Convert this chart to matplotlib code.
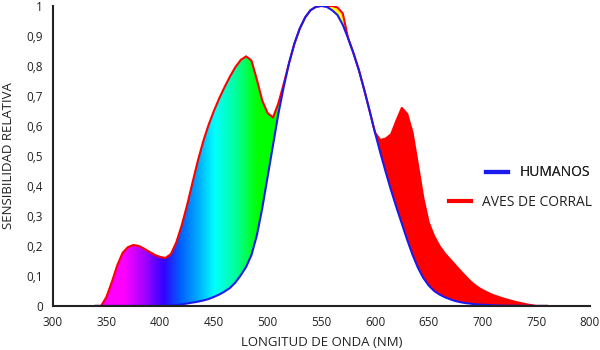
import numpy as np
import matplotlib
matplotlib.use("Agg")
import matplotlib.pyplot as plt
from matplotlib.colors import LinearSegmentedColormap
from matplotlib.lines import Line2D

plt.rcParams['font.family'] = ['Open Sans', 'DejaVu Sans']

# wavelength grid (nm) and the two sensitivity curves
wl = np.arange(340, 765, 5)

humanos = [
    0, 0, 0, 0, 0, 0, 0, 0, 0, 0, 0, 0, 0,            # 340-400
    0.001, 0.002, 0.003, 0.005, 0.008, 0.011, 0.014,   # 405-435
    0.018, 0.023, 0.030, 0.038, 0.048, 0.060, 0.078,   # 440-470
    0.102, 0.130, 0.170, 0.235, 0.325, 0.430, 0.535,   # 475-505
    0.640, 0.730, 0.810, 0.875, 0.925, 0.962, 0.986,   # 510-540
    0.997, 1.000, 0.997, 0.986, 0.970, 0.937, 0.892,   # 545-575
    0.842, 0.786, 0.720, 0.650, 0.578, 0.510, 0.446,   # 580-610
    0.385, 0.328, 0.274, 0.220, 0.170, 0.127, 0.093,   # 615-645
    0.068, 0.050, 0.038, 0.029, 0.022, 0.016, 0.012,   # 650-680
    0.009, 0.007, 0.005, 0.004, 0.003, 0.002, 0.0015,  # 685-715
    0.001, 0.0007, 0.0005, 0.0003, 0.0002, 0.0001, 0,  # 720-750
    0, 0,                                              # 755-760
]

aves = [
    0, 0, 0.03, 0.08, 0.135, 0.177, 0.196, 0.203, 0.200, 0.191,  # 340-385
    0.180, 0.170, 0.163, 0.160, 0.173, 0.212, 0.268, 0.335,      # 390-425
    0.410, 0.483, 0.548, 0.603, 0.650, 0.692, 0.730, 0.765,      # 430-465
    0.796, 0.820, 0.832, 0.818, 0.755, 0.685, 0.643, 0.628,      # 470-505
    0.675, 0.740, 0.810, 0.875, 0.925, 0.962, 0.986,             # 510-540
    0.997, 1.000, 0.999, 1.000, 0.995, 0.975, 0.892,             # 545-575
    0.842, 0.786, 0.720, 0.650, 0.578, 0.553, 0.558,             # 580-610
    0.572, 0.618, 0.660, 0.640, 0.577, 0.470, 0.360,             # 615-645
    0.278, 0.233, 0.200, 0.175, 0.155, 0.135, 0.115,             # 650-680
    0.096, 0.078, 0.064, 0.053, 0.044, 0.036, 0.030,             # 685-715
    0.024, 0.019, 0.014, 0.010, 0.006, 0.003, 0,                 # 720-750
    0, 0,                                                        # 755-760
]

# colour of the spectrum at each wavelength
spec_nm = [340, 365, 385, 402, 418, 432, 450, 470, 490, 535, 548, 580, 595, 760]
spec_col = ['#ff00ff', '#ff00ff', '#a000ff', '#3300ff', '#0060ff', '#00a0ff',
            '#00ffff', '#00ff99', '#00ff00', '#00ff00', '#ffff00', '#ffff00',
            '#ff0000', '#ff0000']

xticks = [300, 350, 400, 450, 500, 550, 600, 650, 700, 750, 800]
yticks = [0, 0.1, 0.2, 0.3, 0.4, 0.5, 0.6, 0.7, 0.8, 0.9, 1]
ylabels = ['0', '0,1', '0,2', '0,3', '0,4', '0,5', '0,6', '0,7', '0,8', '0,9', '1']

humanos = np.array(humanos)
aves = np.maximum(np.array(aves), humanos)

fig = plt.figure(figsize=(6, 3.5), dpi=100)
ax = fig.add_axes([0.088, 0.126, 0.895, 0.857])

pos = [(n - spec_nm[0]) / (spec_nm[-1] - spec_nm[0]) for n in spec_nm]
cmap = LinearSegmentedColormap.from_list('espectro', list(zip(pos, spec_col)))

band = ax.fill_between(wl, humanos, aves, facecolor='none', edgecolor='none')
grad = np.linspace(0, 1, 800).reshape(1, -1)
im = ax.imshow(grad, cmap=cmap, aspect='auto', origin='lower',
               extent=[spec_nm[0], spec_nm[-1], 0, 1], zorder=1)
im.set_clip_path(band.get_paths()[0], transform=ax.transData)

ax.plot(wl, aves, color='#ff0000', lw=1.5, zorder=2, solid_joinstyle='round')
ax.plot(wl, humanos, color='#1a1aee', lw=1.5, zorder=3, solid_joinstyle='round')

ax.set_xlim(300, 800)
ax.set_ylim(0, 1)
ax.set_xticks(xticks)
ax.set_yticks(yticks)
ax.set_yticklabels(ylabels)
ax.tick_params(length=0, labelsize=8.5, colors='#222222', pad=7)
for s in ['top', 'right']:
    ax.spines[s].set_visible(False)
for s in ['left', 'bottom']:
    ax.spines[s].set_color('#222222')
    ax.spines[s].set_linewidth(1.5)
    ax.spines[s].set_zorder(4)

ax.set_xlabel('LONGITUD DE ONDA (NM)', fontsize=9.5, color='#222222', labelpad=5)
ax.set_ylabel('SENSIBILIDAD RELATIVA', fontsize=9.5, color='#222222', labelpad=8)

h1 = Line2D([], [], color='#1a1aee', lw=3)
h2 = Line2D([], [], color='#ff0000', lw=3)
leg1 = fig.legend([h1], ['HUMANOS'], loc='center right', frameon=False,
                  bbox_to_anchor=(590 / 600, 1 - 173 / 350), borderaxespad=0,
                  borderpad=0, fontsize=10, handlelength=1.6, handletextpad=0.8,
                  labelcolor='#222222')
leg2 = fig.legend([h2], ['AVES DE CORRAL'], loc='center right', frameon=False,
                  bbox_to_anchor=(592 / 600, 1 - 202 / 350), borderaxespad=0,
                  borderpad=0, fontsize=10, handlelength=1.6, handletextpad=0.8,
                  labelcolor='#222222')
fig.add_artist(leg1)

fig.savefig('out.png', dpi=100)
